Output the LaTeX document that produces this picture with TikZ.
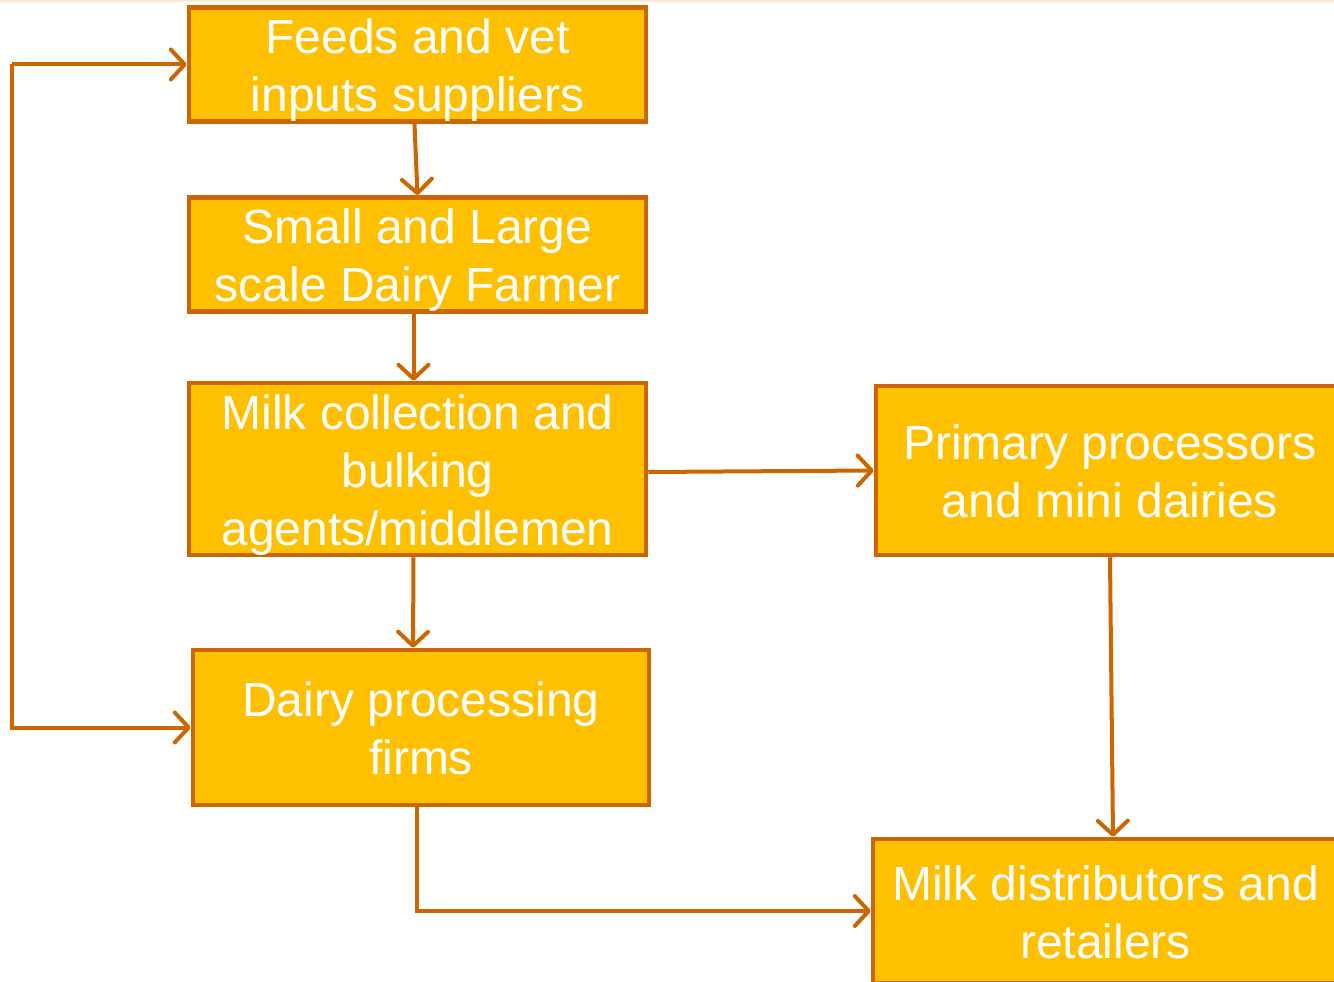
\documentclass[tikz,border=0pt]{standalone}
\usepackage{fontspec}
\setmainfont{Liberation Sans}
\usetikzlibrary{arrows.meta}
\definecolor{boxfill}{HTML}{FFC000}
\definecolor{boxline}{HTML}{CC6600}
\definecolor{topline}{HTML}{FCE8D2}
\newcommand{\lst}{\rule[-10pt]{0pt}{56pt}}
\begin{document}
\begin{tikzpicture}[x=1pt,y=-1pt,
  box/.style={draw=boxline, fill=boxfill, line width=4.5pt, inner sep=0pt,
    text=white, align=center, font=\fontsize{48}{58}\selectfont},
  arr/.style={draw=boxline, line width=4pt, line join=miter,
    -{Straight Barb[length=14pt,width=30pt,round]}}]
\useasboundingbox (0,0) rectangle (1334,982);
\clip (0,0) rectangle (1334,982);
\fill[topline] (0,0) rectangle (1334,2.5);
\node[box, minimum width=457pt, minimum height=111pt] (feeds) at (417.5,64.5) {\lst Feeds and vet\\\lst inputs suppliers};
\node[box, minimum width=457pt, minimum height=111pt] (small) at (417.5,254.5) {\lst Small and Large\\\lst scale Dairy Farmer};
\node[box, minimum width=457pt, minimum height=172pt] (milk) at (417.5,469) {\lst Milk collection and\\\lst bulking\\\lst agents/middlemen};
\node[box, minimum width=456pt, minimum height=155pt] (dairy) at (421,727.5) {\lst Dairy processing\\\lst firms};
\node[box, minimum width=468pt, minimum height=169pt] (primary) at (1110,470.5) {\lst Primary processors\\\lst and mini dairies};
\node[box, minimum width=465pt, minimum height=144pt] (dist) at (1105.5,911) {\lst Milk distributors and\\\lst retailers};
\coordinate (lt) at (12,64.5);
\coordinate (lb) at (12,727.5);
\draw[arr] ([xshift=-3pt]feeds.south) -- (small.north);
\draw[arr] ([xshift=-4pt]small.south) -- ([xshift=-4pt]milk.north);
\draw[arr] ([xshift=-4pt]milk.south) -- ([xshift=-8pt]dairy.north);
\draw[arr] ([yshift=-3pt]milk.east) -- (primary.west);
\draw[arr] (primary.south) -- ([xshift=7.5pt]dist.north);
\draw[arr] ([xshift=-4pt]dairy.south) |- (dist.west);
\draw[arr] (lt) -- (feeds.west);
\draw[arr] (lt) -- (lb) -- (dairy.west);
\end{tikzpicture}
\end{document}
